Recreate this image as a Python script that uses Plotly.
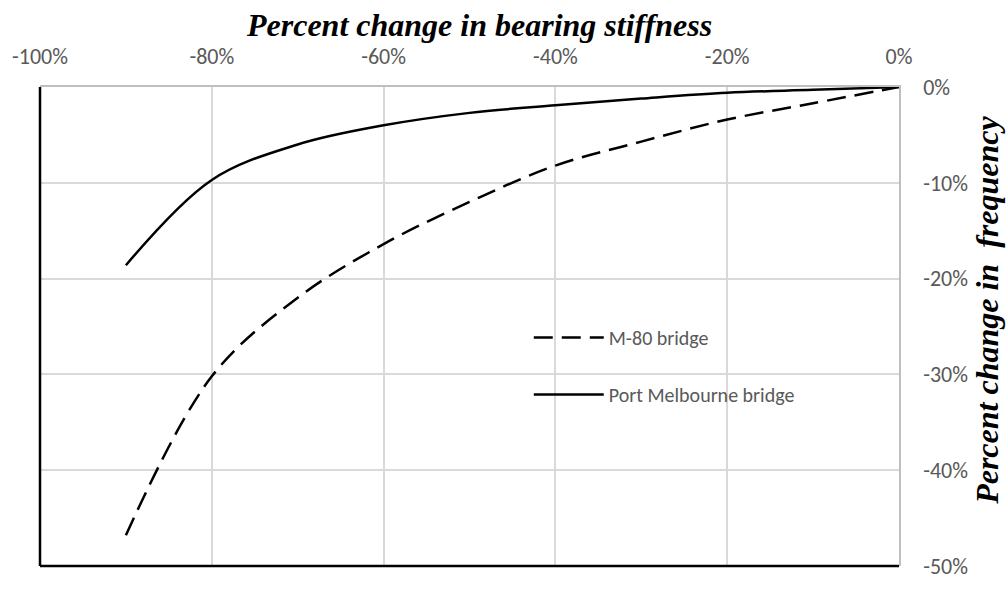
import plotly.graph_objects as go

# Percent change in bearing stiffness (x) and resulting change in frequency (y)
stiffness_change = [-0.90, -0.80, -0.70, -0.60, -0.50, -0.40, -0.30, -0.20, -0.10, 0.0]
m80_freq_change = [-0.468, -0.302, -0.220, -0.164, -0.120, -0.082, -0.057, -0.034, -0.017, 0.0]
port_melb_freq_change = [-0.186, -0.097, -0.060, -0.040, -0.027, -0.019, -0.012, -0.006, -0.003, 0.0]

x_ticks = [-1.0, -0.8, -0.6, -0.4, -0.2, 0.0]
x_tick_labels = ["-100%", "-80%", "-60%", "-40%", "-20%", "0%"]
y_ticks = [0.0, -0.1, -0.2, -0.3, -0.4, -0.5]
y_tick_labels = ["0%", "-10%", "-20%", "-30%", "-40%", "-50%"]

tick_font = dict(family="Calibri, Carlito, Lato, sans-serif", size=22, color="#595959")
legend_font = dict(family="Calibri, Carlito, Lato, sans-serif", size=20, color="#595959")
title_font = dict(family="Times New Roman, Liberation Serif, serif", size=32, color="black")

fig = go.Figure()
fig.add_trace(go.Scatter(
    x=stiffness_change, y=m80_freq_change, mode="lines", name="M-80 bridge",
    line=dict(color="black", width=2.5, dash="19px,9px", shape="spline", smoothing=1.0),
    legendgroup="a",
))
fig.add_trace(go.Scatter(
    x=stiffness_change, y=port_melb_freq_change, mode="lines", name="Port Melbourne bridge",
    line=dict(color="black", width=2.5, shape="spline", smoothing=1.0),
    legendgroup="b",
))

fig.update_layout(
    width=1007, height=592,
    margin=dict(l=39, r=108, t=87, b=15),
    paper_bgcolor="white", plot_bgcolor="white",
    showlegend=True,
    legend=dict(
        x=0.569, y=0.518, xanchor="left", yanchor="top",
        font=legend_font, itemwidth=70, tracegroupgap=28,
        bgcolor="rgba(0,0,0,0)",
    ),
    xaxis=dict(
        side="top", range=[-1.0, 0.0], tickvals=x_ticks, ticktext=x_tick_labels,
        showgrid=True, gridcolor="#d9d9d9", gridwidth=1.5,
        showline=True, linecolor="#bfbfbf", linewidth=1.5,
        ticks="outside", ticklen=12, tickcolor="rgba(0,0,0,0)",
        tickfont=tick_font, zeroline=False,
    ),
    yaxis=dict(
        side="right", range=[-0.5, 0.0], tickvals=y_ticks, ticktext=y_tick_labels,
        showgrid=True, gridcolor="#d9d9d9", gridwidth=1.5,
        showline=True, linecolor="#bfbfbf", linewidth=1.5,
        ticks="outside", ticklen=18, tickcolor="rgba(0,0,0,0)",
        tickfont=tick_font, zeroline=False,
    ),
    annotations=[
        dict(text="<b><i>Percent change in bearing stiffness</i></b>",
             xref="paper", yref="paper", x=(479 - 39) / 860, y=1.0,
             yshift=62, xanchor="center", yanchor="middle",
             showarrow=False, font=title_font),
        dict(text="<b><i>Percent change in\u00a0 frequency</i></b>",
             xref="paper", yref="paper", x=1.0, xshift=88, y=(577 - 316) / 490,
             xanchor="center", yanchor="middle", textangle=-90,
             showarrow=False, font=title_font),
    ],
    shapes=[
        dict(type="line", xref="paper", yref="paper", x0=0, x1=0, y0=0, y1=1,
             line=dict(color="black", width=2.5)),
        dict(type="line", xref="paper", yref="paper", x0=0, x1=1, y0=0, y1=0,
             line=dict(color="black", width=2.5)),
    ],
)

fig.write_html("out.html")
